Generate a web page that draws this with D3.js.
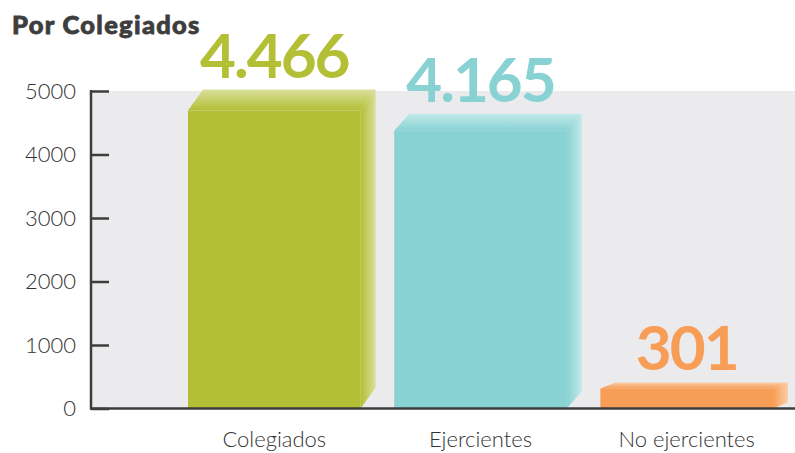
<!DOCTYPE html>
<html>
<head>
<meta charset="utf-8">
<script src="https://cdn.jsdelivr.net/npm/d3@7"></script>
<style>
  body { margin: 0; background: #fff; }
  svg { display: block; font-family: Lato, "Open Sans", sans-serif; }
</style>
</head>
<body>
<svg width="795" height="453"></svg>
<script>
const categories = ["Colegiados", "Ejercientes", "No ejercientes"]
const values = [4466, 4165, 301]
const valueLabels = ["4.466", "4.165", "301"]
const yTicks = [0, 1000, 2000, 3000, 4000, 5000]

// styling
const colors = ["#b3bf35", "#88d2d4", "#f79d55"]
const depthY = [21, 17, 6]
const depthX = 15

const width = 795
const height = 453
const svg = d3.select('svg')

const plot = { left: 92, right: 795, top: 91, bottom: 408.5 }

const y = d3.scaleLinear()
    .domain([0, 5000])
    .range([plot.bottom, plot.top])

// bars in the picture are drawn a bit taller than the axis
const yBar = d3.scaleLinear()
    .domain([0, 5000])
    .range([plot.bottom, 75])

const x = d3.scaleBand()
    .domain(categories)
    .range([188, 788])
    .paddingInner(0.09)
    .paddingOuter(0)

const defs = svg.append('defs')
colors.forEach((c, i) => {
    const light = d3.interpolateRgb(c, '#ffffff')(0.5)
    const top = defs.append('linearGradient')
        .attr('id', 'top' + i)
        .attr('x1', 0).attr('y1', 0).attr('x2', 0).attr('y2', 1)
    top.append('stop').attr('offset', '0%').attr('stop-color', light)
    top.append('stop').attr('offset', '100%').attr('stop-color', c)

    const side = defs.append('linearGradient')
        .attr('id', 'side' + i)
        .attr('x1', 0).attr('y1', 0).attr('x2', 1).attr('y2', 0)
    side.append('stop').attr('offset', '0%').attr('stop-color', c)
    side.append('stop').attr('offset', '100%').attr('stop-color', light)
})

// background
svg.append('rect')
    .attr('x', plot.left)
    .attr('y', plot.top)
    .attr('width', plot.right - plot.left)
    .attr('height', plot.bottom - plot.top)
    .attr('fill', '#ebebed')

// title
svg.append('text')
    .attr('x', 12)
    .attr('y', 34)
    .attr('font-size', 25.5)
    .attr('font-weight', 900)
    .attr('letter-spacing', 1.3)
    .attr('fill', '#3d3d3d')
    .attr('stroke', '#3d3d3d')
    .attr('stroke-width', 0.8)
    .text('Por Colegiados')

const data = categories.map((c, i) => ({ cat: c, value: values[i], label: valueLabels[i], i }))
const fw = x.bandwidth() - depthX

const bars = svg.append('g').selectAll('g')
    .data(data).enter()
    .append('g')

// side face
bars.append('path')
    .attr('fill', d => `url(#side${d.i})`)
    .attr('d', d => {
        const x0 = x(d.cat) + fw
        const t = yBar(d.value)
        const dy = depthY[d.i]
        return `M${x0},${t}L${x0 + depthX},${t - dy}L${x0 + depthX},${plot.bottom - dy}L${x0},${plot.bottom}Z`
    })

// top face
bars.append('path')
    .attr('fill', d => `url(#top${d.i})`)
    .attr('d', d => {
        const x0 = x(d.cat)
        const t = yBar(d.value)
        const dy = depthY[d.i]
        return `M${x0},${t}L${x0 + depthX},${t - dy}L${x0 + fw + depthX},${t - dy}L${x0 + fw},${t}Z`
    })

// front face
bars.append('rect')
    .attr('x', d => x(d.cat))
    .attr('y', d => yBar(d.value))
    .attr('width', fw)
    .attr('height', d => plot.bottom - yBar(d.value))
    .attr('fill', d => colors[d.i])

// value labels
bars.append('text')
    .attr('x', d => x(d.cat) + fw / 2)
    .attr('y', d => yBar(d.value) - depthY[d.i] - 12)
    .attr('text-anchor', 'middle')
    .attr('font-size', 62)
    .attr('font-weight', 700)
    .attr('letter-spacing', -2)
    .attr('fill', d => colors[d.i])
    .text(d => d.label)

// category labels
svg.append('g').selectAll('text')
    .data(data).enter()
    .append('text')
    .attr('x', d => x(d.cat) + fw / 2)
    .attr('y', 447)
    .attr('text-anchor', 'middle')
    .attr('font-size', 22)
    .attr('font-weight', 300)
    .attr('fill', '#333')
    .text(d => d.cat)

// y axis
const yAxis = d3.axisRight(y)
    .tickValues(yTicks)
    .tickSize(18)
    .tickFormat(d3.format('d'))

const ga = svg.append('g')
    .attr('transform', `translate(${plot.left - 1},0)`)
    .call(yAxis)
ga.select('.domain').remove()
ga.selectAll('.tick line')
    .attr('stroke', '#3d3d3d')
    .attr('stroke-width', 2.5)
ga.selectAll('.tick text')
    .attr('x', -15)
    .attr('text-anchor', 'end')
    .attr('font-size', 22)
    .attr('font-weight', 300)
    .attr('font-family', 'Lato, sans-serif')
    .attr('fill', '#333')

svg.append('line')
    .attr('x1', plot.left - 1).attr('x2', plot.left - 1)
    .attr('y1', plot.top - 1).attr('y2', plot.bottom + 1)
    .attr('stroke', '#3d3d3d')
    .attr('stroke-width', 2.5)

svg.append('line')
    .attr('x1', plot.left - 2).attr('x2', width)
    .attr('y1', plot.bottom).attr('y2', plot.bottom)
    .attr('stroke', '#3d3d3d')
    .attr('stroke-width', 2.5)
</script>
</body>
</html>
